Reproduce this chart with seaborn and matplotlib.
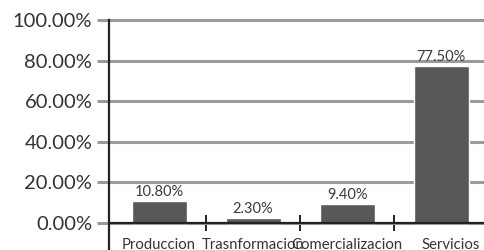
import numpy as np
import pandas as pd
import matplotlib
matplotlib.use("Agg")
import matplotlib.pyplot as plt
import matplotlib.transforms as mtransforms
import seaborn as sns
from matplotlib.ticker import FixedLocator

# -------------------------------
# Data
# -------------------------------
categories = ["Produccion", "Trasnformacion", "Comercializacion", "Servicios"]
shares = [0.108, 0.023, 0.094, 0.775]
value_labels = ["10.80%", "2.30%", "9.40%", "77.50%"]
y_ticks = [0.0, 0.2, 0.4, 0.6, 0.8, 1.0]
y_tick_labels = ["0.00%", "20.00%", "40.00%", "60.00%", "80.00%", "100.00%"]

df = pd.DataFrame({"Sector": categories, "Share": shares})

sns.set_theme(style="white")
plt.rcParams["font.family"] = ["Lato", "DejaVu Sans"]

fig = plt.figure(figsize=(4.85, 2.5), dpi=100)
ax = fig.add_axes([109 / 485, 0, 376 / 485, 230 / 250])

sns.barplot(data=df, x="Sector", y="Share", color="#585858", saturation=1,
            width=0.585, ax=ax, zorder=3)

ax.set_xlim(-0.532, 3.468)
ax.set_ylim(-0.133, 1.0)

# y axis: gray ticks that run into the gridlines
ax.set_yticks(y_ticks)
ax.set_yticklabels(y_tick_labels, fontsize=14.5, color="#333333")
ax.yaxis.grid(True, color="#9a9a9a", linewidth=2.2, zorder=0)
ax.tick_params(axis="y", length=9, width=2.2, color="#9a9a9a", pad=3, left=True)
for gl in ax.get_ygridlines():
    gl.set_clip_on(False)

# x axis sits on zero, with small ticks between categories
ax.spines["bottom"].set_position(("data", 0))
ax.spines["bottom"].set_color("#222222")
ax.spines["bottom"].set_linewidth(1.6)
ax.spines["bottom"].set_zorder(4)
ax.spines["left"].set_color("#222222")
ax.spines["left"].set_linewidth(1.6)
ax.spines["top"].set_visible(False)
ax.spines["right"].set_visible(False)
ax.set_xticks(range(len(categories)))
ax.set_xticklabels(categories, fontsize=10.7, color="#333333")
ax.tick_params(axis="x", which="major", length=0, pad=11)
ax.xaxis.set_minor_locator(FixedLocator([0.5, 1.5, 2.5]))
ax.tick_params(axis="x", which="minor", length=11, width=1.4,
               direction="inout", color="#222222", bottom=True)
ax.set_xlabel("")
ax.set_ylabel("")

# the last label sits a little to the right in the original
last = ax.get_xticklabels()[-1]
last.set_transform(last.get_transform() +
                   mtransforms.ScaledTranslation(10 / 100, 0, fig.dpi_scale_trans))

# value labels above the bars
for i, (v, lab) in enumerate(zip(shares, value_labels)):
    ax.text(i, v + 0.01, lab, ha="center", va="bottom", fontsize=10.5,
            color="#3a3a3a", zorder=5)

fig.savefig("out.png", dpi=100)
